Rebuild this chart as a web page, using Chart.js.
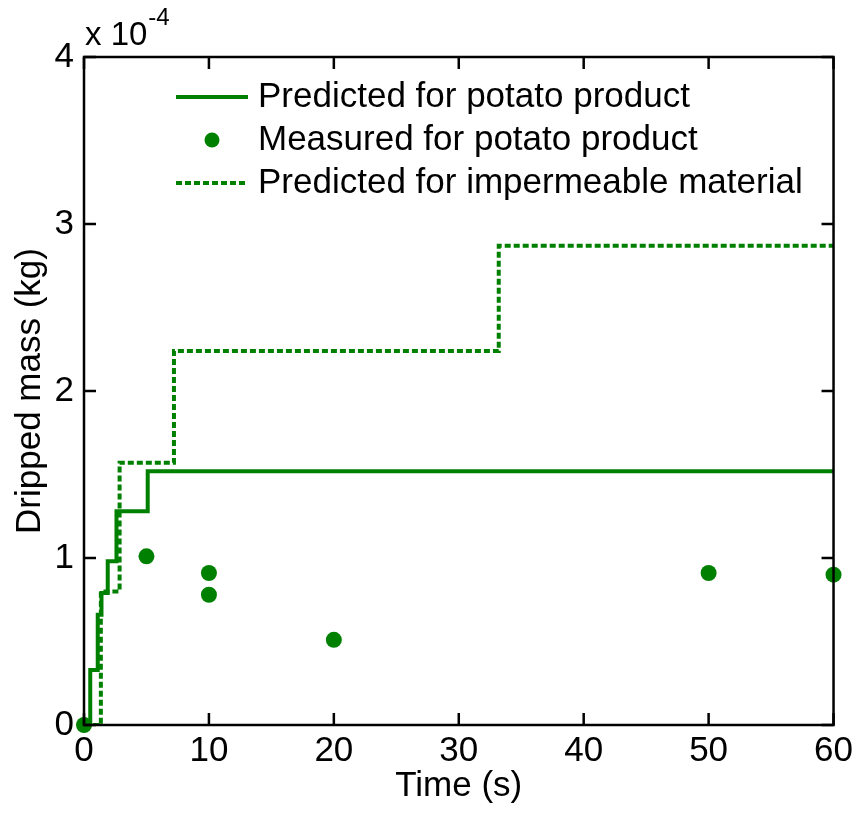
<!DOCTYPE html>
<html>
<head>
<meta charset="utf-8">
<script src="https://cdn.jsdelivr.net/npm/chart.js@4"></script>
<style>
  html, body { margin: 0; padding: 0; background: #fff; }
  #wrap { width: 858px; height: 814px; }
</style>
</head>
<body>
<div id="wrap"><canvas id="grafico" width="858" height="814"></canvas></div>
<script>
// values, mass in units of 1e-4 kg
const TEMPO_PREVISTO = [0, 0.5, 1.1, 1.4, 1.9, 2.6, 5.1, 60];
const MASSA_PREVISTA = [0, 0.33, 0.66, 0.79, 0.98, 1.28, 1.52, 1.52];
const TEMPO_MEDIDO = [0, 5, 10, 10, 20, 50, 60];
const MASSA_MEDIDA = [0, 1.01, 0.91, 0.78, 0.51, 0.91, 0.90];
const TEMPO_IMPERM = [0, 1.35, 2.85, 7.2, 33.2, 60];
const MASSA_IMPERM = [0, 0.80, 1.57, 2.24, 2.87, 2.87];
const TICKS_X = [0, 10, 20, 30, 40, 50, 60];
const TICKS_Y = [0, 1, 2, 3, 4];
const EXPOENTE_Y = "-4";
const LEGENDAS = [
  "Predicted for potato product",
  "Measured for potato product",
  "Predicted for impermeable material"
];

const verde = "#008000";
const fonte = "'Liberation Sans', Arial, sans-serif";

const pontos = (xs, ys) => xs.map((x, i) => ({ x: x, y: ys[i] }));

// frame with inward ticks on all four sides, drawn over the data
const moldura = {
  id: "moldura",
  afterDatasetsDraw(chart) {
    const ctx = chart.ctx;
    const a = chart.chartArea;
    const sx = chart.scales.x, sy = chart.scales.y;
    const tam = 12;
    ctx.save();
    ctx.strokeStyle = "#000";
    ctx.lineWidth = 2.5;
    ctx.beginPath();
    TICKS_X.forEach(v => {
      const px = sx.getPixelForValue(v);
      ctx.moveTo(px, a.bottom); ctx.lineTo(px, a.bottom - tam);
      ctx.moveTo(px, a.top); ctx.lineTo(px, a.top + tam);
    });
    TICKS_Y.forEach(v => {
      const py = sy.getPixelForValue(v);
      ctx.moveTo(a.left, py); ctx.lineTo(a.left + tam, py);
      ctx.moveTo(a.right, py); ctx.lineTo(a.right - tam, py);
    });
    ctx.stroke();
    ctx.strokeRect(a.left, a.top, a.right - a.left, a.bottom - a.top);

    // x 10^-4 multiplier
    ctx.fillStyle = "#000";
    ctx.textBaseline = "alphabetic";
    ctx.textAlign = "left";
    ctx.font = "33px " + fonte;
    const base = "x 10";
    ctx.fillText(base, a.left + 1, a.top - 12);
    const w = ctx.measureText(base).width;
    ctx.font = "24px " + fonte;
    ctx.fillText(EXPOENTE_Y, a.left + 1 + w + 1, a.top - 32);
    ctx.restore();
  }
};

// legend drawn inside the plot, no box
const legenda = {
  id: "legenda",
  afterDraw(chart) {
    const ctx = chart.ctx;
    const a = chart.chartArea;
    const x0 = a.left + 92, x1 = a.left + 164, xt = a.left + 174;
    const linhas = [a.top + 40, a.top + 83, a.top + 126];
    ctx.save();
    ctx.strokeStyle = verde;
    ctx.fillStyle = verde;
    ctx.lineWidth = 4;
    ctx.lineCap = "butt";
    ctx.beginPath();
    ctx.moveTo(x0, linhas[0]); ctx.lineTo(x1, linhas[0]);
    ctx.stroke();
    ctx.beginPath();
    ctx.arc((x0 + x1) / 2, linhas[1], 7.5, 0, Math.PI * 2);
    ctx.fill();
    ctx.setLineDash([6, 3]);
    ctx.beginPath();
    ctx.moveTo(x0, linhas[2]); ctx.lineTo(x1, linhas[2]);
    ctx.stroke();
    ctx.setLineDash([]);
    ctx.fillStyle = "#000";
    ctx.font = "35px " + fonte;
    ctx.textBaseline = "middle";
    ctx.textAlign = "left";
    LEGENDAS.forEach((t, i) => ctx.fillText(t, xt, linhas[i]));
    ctx.restore();
  }
};

const canvas = document.getElementById("grafico");
const grafico = new Chart(canvas.getContext("2d"), {
  type: "line",
  data: {
    datasets: [
      {
        label: LEGENDAS[0],
        data: pontos(TEMPO_PREVISTO, MASSA_PREVISTA),
        borderColor: verde,
        borderWidth: 4,
        stepped: "before",
        pointRadius: 0,
        fill: false,
        order: 1
      },
      {
        label: LEGENDAS[1],
        type: "scatter",
        data: pontos(TEMPO_MEDIDO, MASSA_MEDIDA),
        backgroundColor: verde,
        borderColor: verde,
        pointRadius: 8,
        borderWidth: 0,
        showLine: false,
        clip: false,
        order: 0
      },
      {
        label: LEGENDAS[2],
        data: pontos(TEMPO_IMPERM, MASSA_IMPERM),
        borderColor: verde,
        borderWidth: 4,
        borderDash: [6, 3],
        stepped: "before",
        pointRadius: 0,
        fill: false,
        order: 2
      }
    ]
  },
  options: {
    responsive: false,
    animation: false,
    layout: { padding: { left: 0, top: 57, right: 22, bottom: 0 } },
    plugins: {
      legend: { display: false },
      tooltip: { enabled: false }
    },
    scales: {
      x: {
        type: "linear",
        min: 0,
        max: 60,
        afterFit: s => { s.height = 89; },
        afterBuildTicks: s => { s.ticks = TICKS_X.map(v => ({ value: v })); },
        grid: { display: false, drawTicks: false },
        border: { display: false },
        ticks: { color: "#000", font: { size: 35, family: fonte }, padding: 5, maxRotation: 0 },
        title: { display: true, text: "Time (s)", color: "#000", font: { size: 35, family: fonte }, padding: { top: 0, bottom: 7 } }
      },
      y: {
        min: 0,
        max: 4,
        afterFit: s => { s.width = 84; },
        afterBuildTicks: s => { s.ticks = TICKS_Y.map(v => ({ value: v })); },
        grid: { display: false, drawTicks: false },
        border: { display: false },
        ticks: { color: "#000", font: { size: 35, family: fonte }, padding: 10 },
        title: { display: true, text: "Dripped mass (kg)", color: "#000", font: { size: 35, family: fonte }, padding: { top: 9, bottom: 0 } }
      }
    }
  },
  plugins: [moldura, legenda]
});
</script>
</body>
</html>
